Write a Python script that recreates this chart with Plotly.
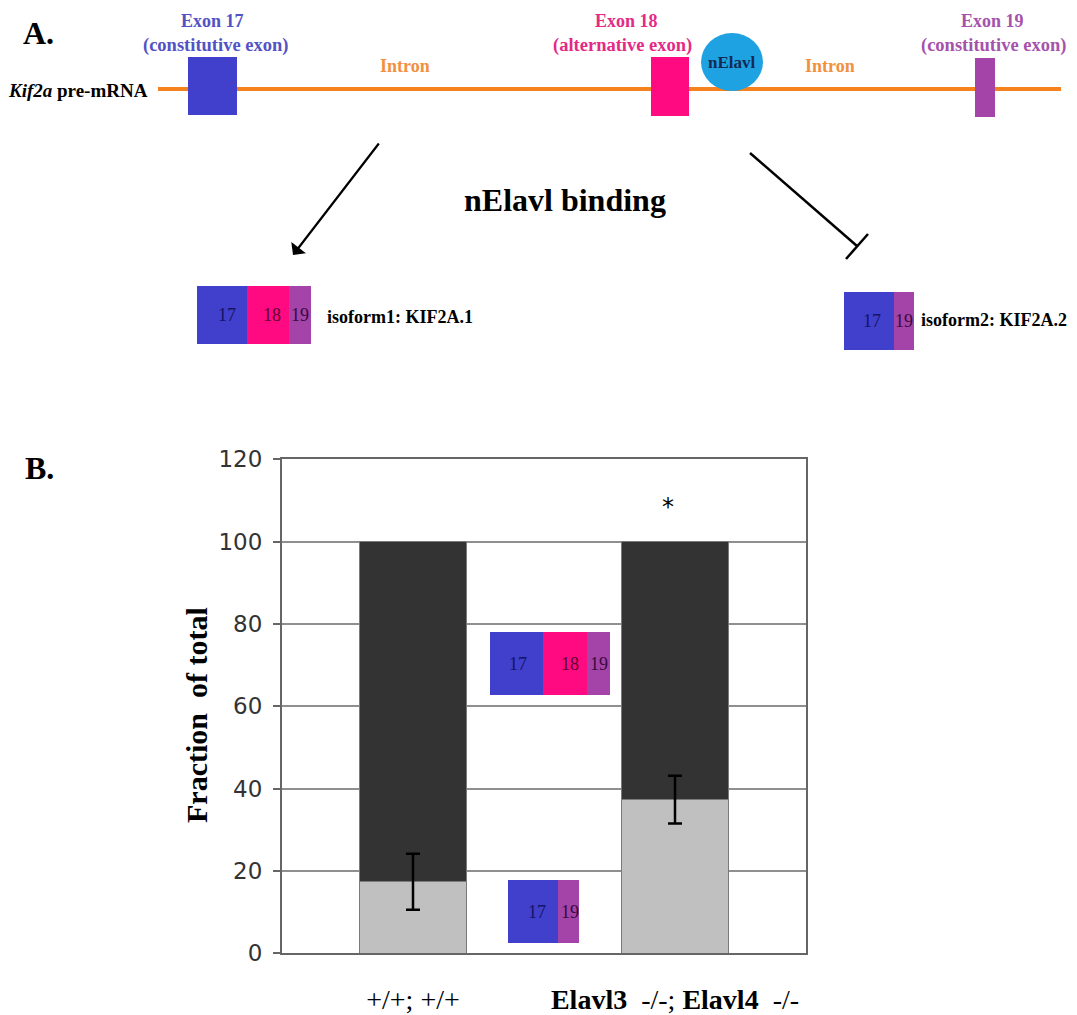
import plotly.graph_objects as go

W, H = 1077, 1015

# ---------------- data (panel B) ----------------
genotypes = ["+/+; +/+", "Elavl3 -/-; Elavl4 -/-"]
genotype_labels = ["+/+; +/+", "<b>Elavl3</b>  -/-; <b>Elavl4</b>  -/-"]
isoform2_pct = [17.4, 37.3]      # exon 17-19 (KIF2A.2), light gray
isoform1_pct = [82.6, 62.7]      # exon 17-18-19 (KIF2A.1), dark
isoform2_err = [6.8, 5.8]
significance = ["", "*"]
y_ticks = [0, 20, 40, 60, 80, 100, 120]

SERIF = "Liberation Serif, Times New Roman, serif"
SANS = "DejaVu Sans, Verdana, sans-serif"
BLUE = "#4040cc"
PINK = "#ff0a80"
PURPLE = "#a444a8"
ORANGE = "#f6821f"
CYAN = "#1ea2e2"


def PX(x):
    return x / W


def PY(y):
    return 1 - y / H


fig = go.Figure()

fig.add_trace(go.Bar(
    x=genotypes, y=isoform2_pct, width=0.41,
    marker=dict(color="#c0c0c0", line=dict(color="#7a7a7a", width=1)),
    showlegend=False,
))
fig.add_trace(go.Bar(
    x=genotypes, y=isoform1_pct, width=0.41,
    marker=dict(color="#333333", line=dict(color="#7a7a7a", width=1)),
    showlegend=False,
))
fig.add_trace(go.Scatter(
    x=genotypes, y=isoform2_pct, mode="markers",
    marker=dict(size=1, color="rgba(0,0,0,0)"),
    error_y=dict(type="data", array=isoform2_err, visible=True,
                 color="black", thickness=2.5, width=7),
    showlegend=False, hoverinfo="skip",
))

fig.update_layout(
    width=W, height=H, autosize=False,
    margin=dict(l=0, r=0, t=0, b=0, pad=0),
    paper_bgcolor="white", plot_bgcolor="white",
    barmode="stack",
    xaxis=dict(
        domain=[PX(282), PX(806)],
        type="category", automargin=False,
        tickvals=genotypes, ticktext=genotype_labels,
        tickfont=dict(family=SERIF, size=28, color="black"),
        ticks="", ticklabelstandoff=20,
        showline=True, linecolor="#666666", linewidth=2, mirror=True,
        showgrid=False,
    ),
    yaxis=dict(
        domain=[PY(953.3), PY(459.3)], automargin=False,
        range=[0, 120], tickvals=y_ticks,
        tickfont=dict(family=SANS, size=23, color="#333333"),
        ticks="outside", ticklen=7, tickcolor="#666666", tickwidth=2,
        ticklabelstandoff=6,
        showline=True, linecolor="#666666", linewidth=2, mirror=True,
        showgrid=True, gridcolor="#8f8f8f", gridwidth=2,
        zeroline=False,
    ),
)

shapes = []
ann = []


def rect(x0, y0, x1, y1, color):
    shapes.append(dict(type="rect", xref="paper", yref="paper",
                       x0=PX(x0), x1=PX(x1), y0=PY(y1), y1=PY(y0),
                       fillcolor=color, line=dict(width=0), layer="above"))


def text(x, y, s, size, color="black", family=SERIF, xanchor="center", **kw):
    ann.append(dict(xref="paper", yref="paper", x=PX(x), y=PY(y), text=s,
                    showarrow=False, xanchor=xanchor, yanchor="middle",
                    font=dict(family=family, size=size, color=color), **kw))


# ---------------- panel A ----------------
text(38, 33, "<b>A.</b>", 32)
text(40, 468, "<b>B.</b>", 32)

# pre-mRNA line
shapes.append(dict(type="line", xref="paper", yref="paper",
                   x0=PX(158), x1=PX(1061), y0=PY(89), y1=PY(89),
                   line=dict(color=ORANGE, width=4), layer="above"))
rect(188, 57, 237, 115, BLUE)
rect(651, 57, 689, 116, PINK)
rect(975, 58, 995, 117, PURPLE)
shapes.append(dict(type="circle", xref="paper", yref="paper",
                   x0=PX(701), x1=PX(763), y0=PY(91), y1=PY(33),
                   fillcolor=CYAN, line=dict(width=0), layer="above"))
text(732, 62, "<b>nElavl</b>", 17, color="#152a55")

text(150, 91, "<b><i>Kif2a</i> pre-mRNA</b>", 19, xanchor="right")
text(212, 21, "<b>Exon 17</b>", 18, color="#5252c4")
text(215, 45, "<b>(constitutive exon)</b>", 18.5, color="#5252c4")
text(405, 66, "<b>Intron</b>", 18, color="#f29040")
text(626, 21, "<b>Exon 18</b>", 18, color="#e42a86")
text(622, 45, "<b>(alternative exon)</b>", 18.5, color="#e42a86")
text(830, 66, "<b>Intron</b>", 18, color="#f29040")
text(992, 21, "<b>Exon 19</b>", 18, color="#a552ad")
text(993, 45, "<b>(constitutive exon)</b>", 18.5, color="#a552ad")

text(565, 200, "<b>nElavl binding</b>", 32)

# activating arrow
ann.append(dict(xref="paper", yref="paper", x=PX(293), y=PY(255), text="",
                showarrow=True, ax=87, ay=-113, arrowhead=1, arrowsize=1.4,
                arrowwidth=2.2, arrowcolor="black"))
# inhibitory line
shapes.append(dict(type="line", xref="paper", yref="paper",
                   x0=PX(750), y0=PY(153), x1=PX(857), y1=PY(246),
                   line=dict(color="black", width=2.5), layer="above"))
shapes.append(dict(type="line", xref="paper", yref="paper",
                   x0=PX(846), y0=PY(259), x1=PX(868), y1=PY(234),
                   line=dict(color="black", width=2.5), layer="above"))


def iso_box(y0, y1, segs, fs=18):
    for lab, a, b, c, tx, tc in segs:
        rect(a, y0, b, y1, c)
        text(tx, (y0 + y1) / 2, lab, fs, color=tc)


# isoform 1 (panel A)
iso_box(286, 344, [("17", 197, 247, BLUE, 227, "#141466"),
                   ("18", 247, 289, PINK, 272, "#5a0030"),
                   ("19", 289, 311, PURPLE, 300, "#3a0a40")])
text(325, 317, "<b>isoform1: KIF2A.1</b>", 18, xanchor="left")
# isoform 2 (panel A)
iso_box(292, 350, [("17", 844, 894, BLUE, 872, "#141466"),
                   ("19", 894, 914, PURPLE, 904, "#3a0a40")])
text(919, 320, "<b>isoform2: KIF2A.2</b>", 18, xanchor="left")

# legend-like boxes in panel B
iso_box(632, 695, [("17", 490, 543, BLUE, 518, "#141466"),
                   ("18", 543, 587, PINK, 570, "#5a0030"),
                   ("19", 587, 610, PURPLE, 599, "#3a0a40")])
iso_box(880, 943, [("17", 508, 558, BLUE, 537, "#141466"),
                   ("19", 558, 579, PURPLE, 570, "#3a0a40")])

# y-axis title
ann.append(dict(xref="paper", yref="paper", x=PX(196), y=PY(715),
                text="<b>Fraction  of total</b>", showarrow=False,
                textangle=-90, xanchor="center", yanchor="middle",
                font=dict(family=SERIF, size=30, color="black")))

# significance star
for g, s in zip(genotypes, significance):
    if s:
        ann.append(dict(xref="x", yref="y", x=g, y=108.5, text=s,
                        showarrow=False, xshift=-7,
                        font=dict(family=SANS, size=24, color="black")))

fig.update_layout(shapes=shapes, annotations=ann)

fig.write_html("out.html", config={"displayModeBar": False},
               post_script="document.body.style.margin='0';")
